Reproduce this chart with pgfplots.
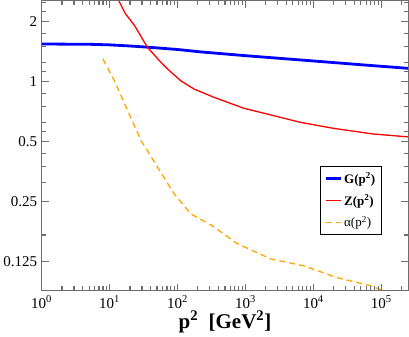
\documentclass[border=0pt]{standalone}
\usepackage{fontspec}
\setmainfont{Liberation Serif}
\usepackage{pgfplots}
\pgfplotsset{compat=1.18}
\definecolor{gline}{HTML}{0000FF}
\definecolor{zline}{HTML}{FF0000}
\definecolor{aline}{HTML}{FFA500}
\definecolor{axgray}{HTML}{6E6E6E}

\begin{document}
\begin{tikzpicture}
\begin{axis}[
  scale only axis, axis on top,
  width=367pt, height=290pt,
  xmode=log, ymode=log,
  xmin=1, xmax=2.5e5, ymin=0.0895, ymax=2.55,
  axis line style={draw=axgray, line width=1.3pt},
  major tick style={draw=axgray, line width=1.2pt},
  minor tick style={draw=axgray, line width=1.1pt},
  tick align=inside, xtick pos=both, ytick pos=both,
  major tick length=7pt, minor tick length=4pt,
  xtick={1,10,100,1000,10000,100000},
  xticklabels={10\textsuperscript{0},10\textsuperscript{1},10\textsuperscript{2},10\textsuperscript{3},10\textsuperscript{4},10\textsuperscript{5}},
  minor xtick={2,3,4,5,6,7,8,9,20,30,40,50,60,70,80,90,200,300,400,500,600,700,800,900,
    2000,3000,4000,5000,6000,7000,8000,9000,20000,30000,40000,50000,60000,70000,80000,90000,200000},
  ytick={0.125,0.25,0.5,1,2},
  yticklabels={0.125,0.25,0.5,1,2},
  minor ytick={0.17,0.3125,0.375,0.4375,0.5625,0.625,0.75,0.875,1.125,1.25,1.5,1.75,2.25,2.5},
  tick label style={font=\fontsize{15}{17}\selectfont},
  xticklabel style={yshift=-2pt},
  yticklabel style={xshift=-1pt},
  xlabel={\textbf{p\textsuperscript{2}\ \ [GeV\textsuperscript{2}]}},
  xlabel style={font=\fontsize{21}{24}\selectfont, yshift=4pt},
  legend style={at={(0.927,0.428)}, anchor=north east, line width=0.8pt,
    font=\fontsize{13}{15}\selectfont, inner xsep=4pt, inner ysep=4pt, row sep=6pt},
  legend cell align=left,
  legend image code/.code={\draw[#1] (0pt,0pt) -- (15pt,0pt);},
]
\addplot[color=gline, line width=2.8pt] coordinates {
  (1,1.545) (5,1.54) (10,1.53) (20,1.51) (36,1.49) (60,1.47) (100,1.45) (220,1.41)
  (1000,1.35) (10000,1.27) (60000,1.21) (250000,1.166)
};
\addlegendentry{\textbf{G(p\textsuperscript{2})}}
\addplot[color=zline, line width=1.3pt] coordinates {
  (12,2.85) (13.7,2.55) (17,2.2) (23.4,1.91) (36,1.49) (57,1.25) (75,1.14) (112,1.01)
  (175,0.918) (345,0.834) (950,0.735) (2080,0.688) (6400,0.625) (19700,0.583)
  (76000,0.546) (250000,0.528)
};
\addlegendentry{\textbf{Z(p\textsuperscript{2})}}
\addplot[color=aline, line width=1.3pt, dash pattern=on 6pt off 4pt] coordinates {
  (7.98,1.30) (11.8,1.01) (18.5,0.716) (29.1,0.506) (51,0.372) (89.5,0.273)
  (157,0.217) (325,0.189) (755,0.154) (2330,0.129) (7160,0.119) (22000,0.104)
  (67900,0.0947) (106000,0.0895) (130000,0.087)
};
\addlegendentry{α(p\textsuperscript{2})}
\end{axis}
\end{tikzpicture}
\end{document}
